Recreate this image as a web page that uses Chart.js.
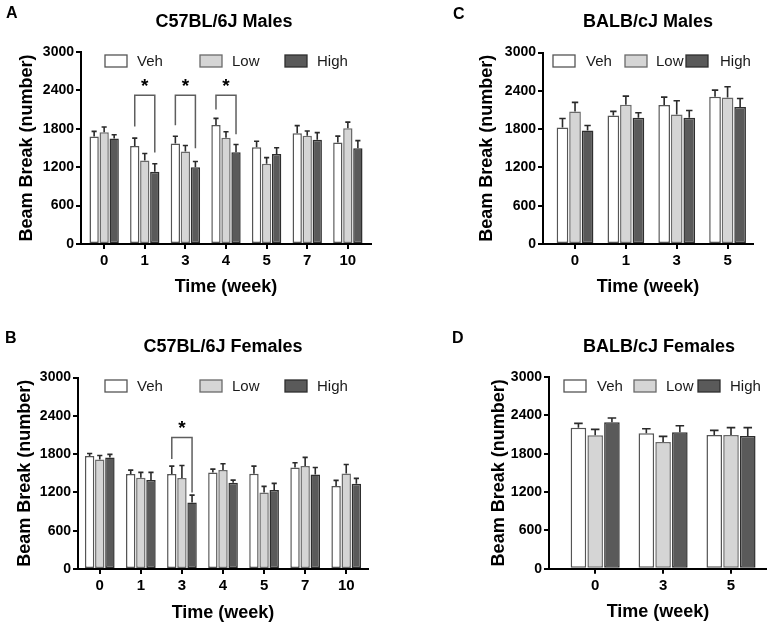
<!DOCTYPE html>
<html><head><meta charset="utf-8">
<script src="https://cdn.jsdelivr.net/npm/chart.js@4.4.1/dist/chart.umd.min.js"></script>
<style>
html,body{margin:0;padding:0;background:#fff;}
#wrap{position:relative;width:767px;height:626px;overflow:hidden;background:#fff;}
canvas{position:absolute;left:0;top:0;}
</style></head><body>
<div id="wrap">
<canvas id="cA" width="767" height="626"></canvas>
<canvas id="cB" width="767" height="626"></canvas>
<canvas id="cC" width="767" height="626"></canvas>
<canvas id="cD" width="767" height="626"></canvas>
</div>
<script>
// ---------- DATA ----------
const seriesNames = ['Veh', 'Low', 'High'];
const yTickValues = [0, 600, 1200, 1800, 2400, 3000];

// A: C57BL/6J Males
const weeksA = ['0', '1', '3', '4', '5', '7', '10'];
const vehA = [1680, 1530, 1570, 1860, 1510, 1730, 1585];
const vehErrA = [80, 125, 113, 103, 95, 120, 100];
const lowA = [1745, 1305, 1445, 1660, 1255, 1690, 1810];
const lowErrA = [82, 108, 94, 94, 95, 75, 95];
const highA = [1650, 1128, 1200, 1435, 1405, 1628, 1497];
const highErrA = [57, 127, 88, 120, 98, 113, 118];
const sigIdxA = [1, 2, 3];
const sigTopA = [2323, 2323, 2323];
const sigLeftEndA = [1836, 1857, 2100];
const sigRightEndA = [1428, 1496, 1716];

// B: C57BL/6J Females
const weeksB = ['0', '1', '3', '4', '5', '7', '10'];
const vehB = [1769, 1487, 1487, 1513, 1492, 1591, 1299];
const vehErrB = [41, 62, 125, 52, 120, 73, 89];
const lowB = [1716, 1430, 1424, 1549, 1200, 1612, 1497];
const lowErrB = [63, 83, 198, 100, 94, 136, 141];
const highB = [1748, 1393, 1043, 1351, 1236, 1482, 1336];
const highErrB = [47, 120, 115, 42, 105, 109, 83];
const sigIdxB = [2];
const sigTopB = [2061];
const sigLeftEndB = [1722];
const sigRightEndB = [1200];

// C: BALB/cJ Males
const weeksC = ['0', '1', '3', '5'];
const vehC = [1825, 2014, 2176, 2307];
const vehErrC = [141, 63, 125, 104];
const lowC = [2077, 2181, 2029, 2296];
const lowErrC = [141, 136, 215, 168];
const highC = [1778, 1977, 1977, 2145];
const highErrC = [79, 79, 115, 135];

// D: BALB/cJ Females
const weeksD = ['0', '3', '5'];
const vehD = [2207, 2118, 2092];
const vehErrD = [68, 73, 73];
const lowD = [2087, 1982, 2092];
const lowErrD = [94, 89, 115];
const highD = [2291, 2134, 2076];
const highErrD = [68, 104, 131];

// ---------- STYLE ----------
const FONT = '"Liberation Sans", Arial, Helvetica, sans-serif';
const fills = ['#ffffff', '#d5d5d5', '#5a5a5a'];
const borders = ['#555555', '#6a6a6a', '#2e2e2e'];

const decoPlugin = {
  id: 'deco',
  afterDatasetsDraw(chart, args, o) {
    const ctx = chart.ctx;
    const ys = chart.scales.y;
    (o.errors || []).forEach((errs, di) => {
      const meta = chart.getDatasetMeta(di);
      const ds = chart.data.datasets[di].data;
      meta.data.forEach((bar, i) => {
        const top = ys.getPixelForValue(ds[i].y + errs[i]);
        const cap = bar.width * 0.55;
        ctx.save();
        ctx.strokeStyle = '#2a2a2a';
        ctx.lineWidth = 1.6;
        ctx.beginPath();
        ctx.moveTo(bar.x, bar.y);
        ctx.lineTo(bar.x, top);
        ctx.moveTo(bar.x - cap / 2, top);
        ctx.lineTo(bar.x + cap / 2, top);
        ctx.stroke();
        ctx.restore();
      });
    });
    const sig = o.sig;
    if (sig) {
      const m0 = chart.getDatasetMeta(0), m2 = chart.getDatasetMeta(2);
      sig.idx.forEach((k, j) => {
        const xl = m0.data[k].x, xr = m2.data[k].x;
        const yt = ys.getPixelForValue(sig.top[j]);
        ctx.save();
        ctx.strokeStyle = '#5e5e5e';
        ctx.lineWidth = 1.5;
        ctx.beginPath();
        ctx.moveTo(xl, ys.getPixelForValue(sig.left[j]));
        ctx.lineTo(xl, yt);
        ctx.lineTo(xr, yt);
        ctx.lineTo(xr, ys.getPixelForValue(sig.right[j]));
        ctx.stroke();
        ctx.fillStyle = '#000';
        ctx.font = 'bold 19px ' + FONT;
        ctx.textAlign = 'center';
        ctx.textBaseline = 'middle';
        ctx.fillText('*', (xl + xr) / 2, yt - 9);
        ctx.restore();
      });
    }
  },
  afterDraw(chart, args, o) {
    const ctx = chart.ctx;
    ctx.save();
    ctx.fillStyle = '#000';
    ctx.textBaseline = 'middle';
    ctx.font = 'bold 16px ' + FONT;
    ctx.textAlign = 'left';
    ctx.fillText(o.letter, o.letterX, o.letterY);
    ctx.font = 'bold 18px ' + FONT;
    ctx.textAlign = 'center';
    ctx.fillText(o.title, o.titleX, o.titleY);
    ctx.font = '15px ' + FONT;
    ctx.textAlign = 'left';
    seriesNames.forEach((name, i) => {
      const bx = o.legend.box[i], tx = o.legend.text[i], cy = o.legend.y;
      ctx.fillStyle = fills[i];
      ctx.fillRect(bx, cy - 6, 22, 12);
      ctx.strokeStyle = borders[i];
      ctx.lineWidth = 1.3;
      ctx.strokeRect(bx, cy - 6, 22, 12);
      ctx.fillStyle = '#1a1a1a';
      ctx.fillText(name, tx, cy + 1);
    });
    ctx.restore();
  }
};

function makeChart(id, weeks, vals, errs, sig, L) {
  const datasets = vals.map((arr, i) => ({
    label: seriesNames[i],
    data: arr.map((v, k) => ({ x: k, y: v })),
    backgroundColor: fills[i],
    borderColor: borders[i],
    borderWidth: 1.5,
    borderSkipped: false,
    barPercentage: 0.93,
    categoryPercentage: 0.74
  }));
  const axisTitleFont = { family: FONT, size: 18, weight: 'bold' };
  return new Chart(document.getElementById(id), {
    type: 'bar',
    data: { datasets },
    plugins: [decoPlugin],
    options: {
      responsive: false,
      animation: false,
      events: [],
      layout: { padding: { left: L.left - L.wy, top: L.top, right: 767 - L.right, bottom: 626 - L.bottom - L.hx } },
      plugins: {
        legend: { display: false },
        title: { display: false },
        tooltip: { enabled: false },
        deco: {
          errors: errs, sig,
          letter: L.letter, letterX: L.letterX, letterY: L.letterY,
          title: L.title, titleX: L.titleX, titleY: L.titleY,
          legend: L.legend
        }
      },
      scales: {
        x: {
          type: 'linear',
          offset: false,
          min: L.xmin, max: L.xmax,
          afterBuildTicks: s => { s.ticks = weeks.map((w, i) => ({ value: i })); },
          afterFit: s => { s.height = L.hx; },
          ticks: {
            callback: v => weeks[v],
            autoSkip: false, maxRotation: 0, padding: 3,
            color: '#000',
            font: { family: FONT, size: 15, weight: 'bold' }
          },
          grid: { offset: false, drawOnChartArea: false, drawTicks: true, tickLength: 5, color: '#000', lineWidth: 2 },
          border: { display: true, color: '#000', width: 2 },
          title: { display: true, text: 'Time (week)', color: '#000', font: axisTitleFont, padding: 0 }
        },
        y: {
          min: 0, max: 3000,
          afterBuildTicks: s => { s.ticks = yTickValues.map(v => ({ value: v })); },
          afterFit: s => { s.width = L.wy; },
          ticks: {
            callback: v => String(v),
            padding: 2, color: '#000',
            font: { family: FONT, size: 14, weight: 'bold' }
          },
          grid: { drawOnChartArea: false, drawTicks: true, tickLength: 5, color: '#000', lineWidth: 2 },
          border: { display: true, color: '#000', width: 2 },
          title: { display: true, text: 'Beam Break (number)', color: '#000', font: axisTitleFont, padding: 0 }
        }
      }
    }
  });
}

makeChart('cA', weeksA, [vehA, lowA, highA], [vehErrA, lowErrA, highErrA],
  { idx: sigIdxA, top: sigTopA, left: sigLeftEndA, right: sigRightEndA },
  { left: 81, right: 371, top: 52, bottom: 244, wy: 64.8, hx: 53.8, xmin: -0.57, xmax: 6.57,
    letter: 'A', letterX: 6, letterY: 14, title: 'C57BL/6J Males', titleX: 224, titleY: 22,
    legend: { box: [105, 200, 285], text: [137, 232, 317], y: 61 } });

makeChart('cB', weeksB, [vehB, lowB, highB], [vehErrB, lowErrB, highErrB],
  { idx: sigIdxB, top: sigTopB, left: sigLeftEndB, right: sigRightEndB },
  { left: 78, right: 368, top: 377.5, bottom: 569, wy: 63.8, hx: 54.8, xmin: -0.53, xmax: 6.53,
    letter: 'B', letterX: 5, letterY: 339, title: 'C57BL/6J Females', titleX: 223, titleY: 347,
    legend: { box: [105, 200, 285], text: [137, 232, 317], y: 386 } });

makeChart('cC', weeksC, [vehC, lowC, highC], [vehErrC, lowErrC, highErrC], null,
  { left: 543, right: 753, top: 52.5, bottom: 244, wy: 66.3, hx: 53.8, xmin: -0.63, xmax: 3.5,
    letter: 'C', letterX: 453, letterY: 15, title: 'BALB/cJ Males', titleX: 648, titleY: 22,
    legend: { box: [553, 625, 686], text: [586, 656, 720], y: 61 } });

makeChart('cD', weeksD, [vehD, lowD, highD], [vehErrD, lowErrD, highErrD], null,
  { left: 549, right: 767, top: 377, bottom: 568.7, wy: 60.8, hx: 54.1, xmin: -0.68, xmax: 2.53,
    letter: 'D', letterX: 452, letterY: 339, title: 'BALB/cJ Females', titleX: 659, titleY: 347,
    legend: { box: [564, 634, 698], text: [597, 666, 730], y: 386 } });
</script>
</body></html>
